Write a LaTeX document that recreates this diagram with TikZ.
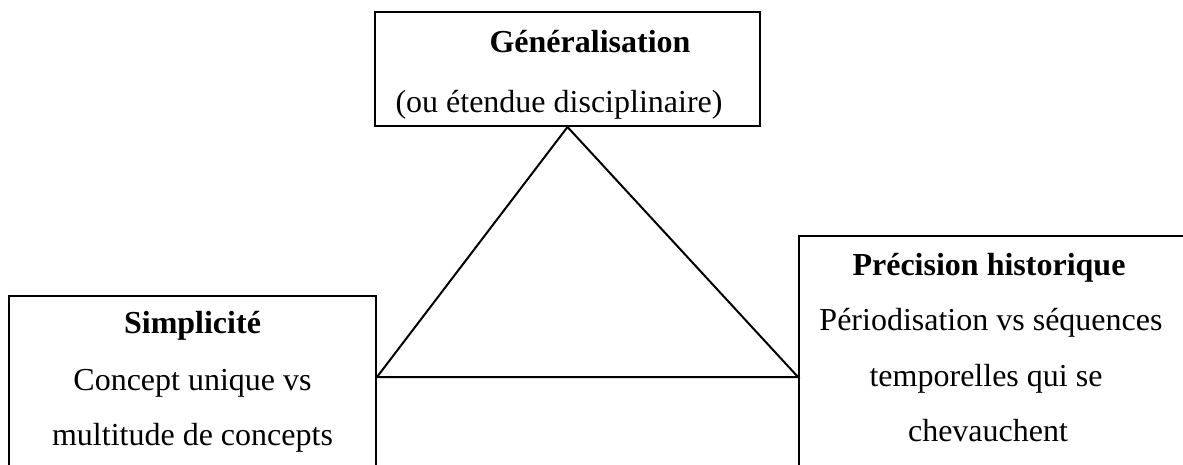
\documentclass[tikz,border=0pt]{standalone}
\usepackage{fontspec}
\setmainfont{Liberation Serif}
\begin{document}
\begin{tikzpicture}[x=1pt,y=-1pt,
  box/.style={draw=black,line width=2pt,rectangle,inner sep=0pt},
  txt/.style={anchor=base,inner sep=0pt,font=\fontsize{32}{38}\selectfont},
  ttl/.style={txt,font=\fontsize{32}{38}\selectfont\bfseries},
  edge/.style={draw=black,line width=2pt}]
\useasboundingbox (0,0) rectangle (1183,465);
\clip (0,0) rectangle (1183,465);
\fill[white] (0,0) rectangle (1183,465);
% boxes
\node[box,minimum width=385pt,minimum height=114pt] (top) at (567.5,69) {};
\node[box,minimum width=367pt,minimum height=220pt] (left) at (192.5,406) {};
\node[box,minimum width=460pt,minimum height=300pt] (right) at (1029,386) {};
% triangle vertices on box edges
\coordinate (L) at (left.east |- 0,377);
\coordinate (R) at (right.west |- 0,377);
\draw[edge] (top.south) -- (L) -- (R) -- cycle;
% texts
\node[ttl] (t1) at (590,53) {Généralisation};
\node[txt] (t2) at (559,113) {(ou étendue disciplinaire)};
\node[ttl] (l1) at (192.5,333) {Simplicité};
\node[txt] (l2) at (192.5,390) {Concept unique vs};
\node[txt] (l3) at (192.5,445) {multitude de concepts};
\node[ttl] (r1) at (989,275) {Précision historique};
\node[txt] (r2) at (991,330) {Périodisation vs séquences};
\node[txt] (r3) at (986,386) {temporelles qui se};
\node[txt] (r4) at (988,441) {chevauchent};
\end{tikzpicture}
\end{document}
